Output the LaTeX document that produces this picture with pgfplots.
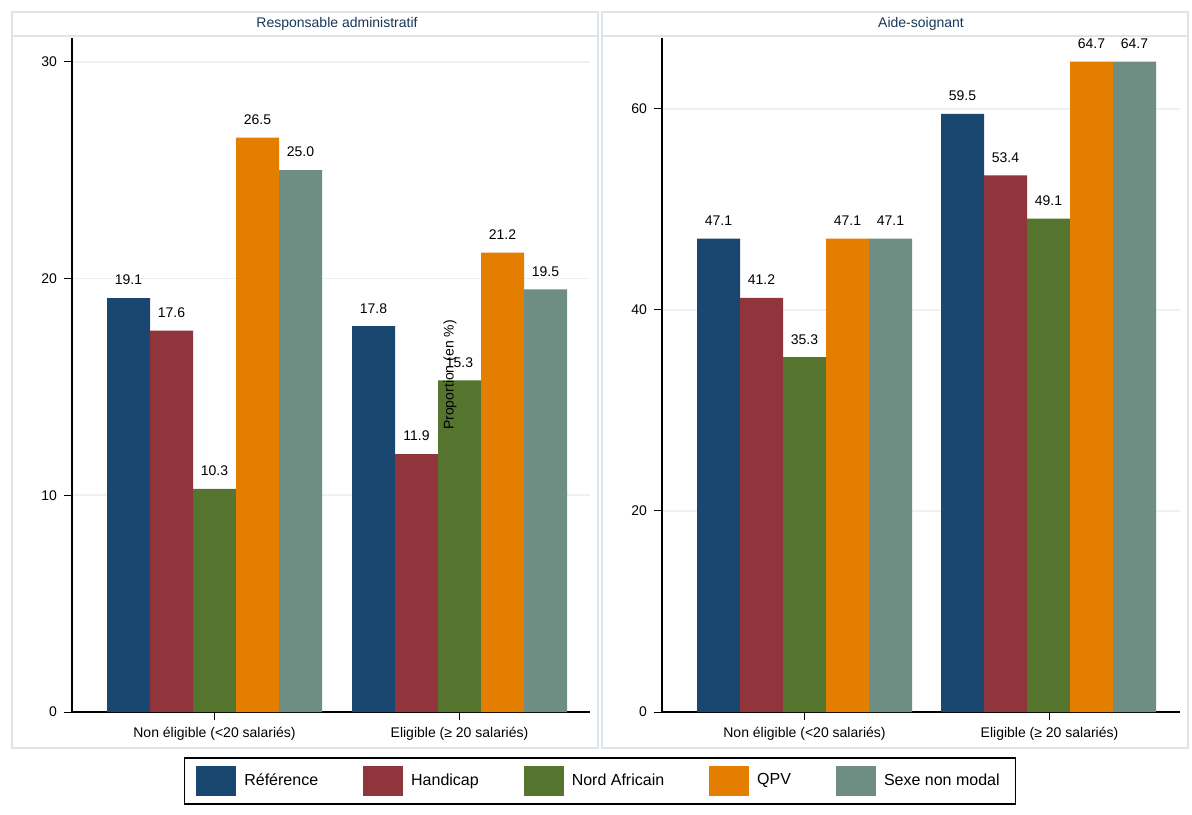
\documentclass[border=0pt]{standalone}
\usepackage{pgfplots}
\pgfplotsset{compat=1.18}
\usepackage{fontspec}
\setmainfont{Liberation Sans}
\definecolor{cA}{HTML}{1A476F}
\definecolor{cB}{HTML}{90353B}
\definecolor{cC}{HTML}{55752F}
\definecolor{cD}{HTML}{E37E00}
\definecolor{cE}{HTML}{6E8E84}
\definecolor{gridc}{HTML}{EAF2F3}
\definecolor{panel}{HTML}{DCE6EA}
\begin{document}
\begin{tikzpicture}[x=0.5pt,y=0.5pt]
\path[fill=white] (0,0) rectangle (1192,814);
\draw[panel,line width=0.6pt] (12,814-12) rectangle (598,814-748);
\draw[panel,line width=0.6pt] (12,814-12) rectangle (598,814-36);
\draw[panel,line width=0.6pt] (602,814-12) rectangle (1188,814-748);
\draw[panel,line width=0.6pt] (602,814-12) rectangle (1188,814-36);
\node[font=\fontsize{7}{8}\selectfont,text=cA!80!black] at (337,814-24) {Responsable administratif};
\node[font=\fontsize{7}{8}\selectfont,text=cA!80!black] at (921,814-24) {Aide-soignant};
\pgfplotsset{
 pan/.style={scale only axis, width=259pt, height=337pt, anchor=south west,
  axis x line*=bottom, axis y line*=left, ymin=0, xmin=0, xmax=518,
  ybar, bar width=21.5pt, bar shift=0pt,
  ymajorgrids, grid style={gridc,line width=0.8pt},
  tick style={black,line width=0.5pt}, major tick length=4pt, tick align=outside,
  xtick={142.5,387.5}, xticklabels={Non éligible (<20 salariés),Eligible (≥ 20 salariés)},
  ticklabel style={font=\fontsize{7}{8}\selectfont},
  /pgf/number format/assume math mode=true,
  nodes near coords, nodes near coords style={font=\fontsize{7}{8}\selectfont,text=black,yshift=3pt},
  /pgf/number format/.cd, fixed, fixed zerofill, precision=1, /pgfplots/.cd,
  yticklabel={\pgfmathprintnumber[fixed,precision=0]{\tick}},
  axis line style={black,line width=0.6pt},
  every axis plot/.append style={draw=none},
  area legend,
 }
}
\begin{axis}[pan, at={(36pt,51pt)}, ymax=31.1, ytick={0,10,20,30},
 legend columns=5,
 legend style={at={(1.0193,-0.102)},anchor=center,draw=black,line width=0.8pt,font=\fontsize{8}{9}\selectfont,
  /tikz/every even column/.append style={column sep=20.5pt},
  /tikz/every odd column/.append style={column sep=2pt}, inner xsep=6pt, inner ysep=4pt},
 legend image code/.code={\fill[#1] (0,-7.5pt) rectangle (20pt,7.5pt);}]
\addplot[fill=cA] coordinates {(56.5,19.1) (301.5,17.8)};
\addplot[fill=cB] coordinates {(99.5,17.6) (344.5,11.9)};
\addplot[fill=cC] coordinates {(142.5,10.3) (387.5,15.3)};
\addplot[fill=cD] coordinates {(185.5,26.5) (430.5,21.2)};
\addplot[fill=cE] coordinates {(228.5,25.0) (473.5,19.5)};
\legend{Référence,Handicap,Nord Africain,QPV,Sexe non modal}
\end{axis}
\begin{axis}[pan, at={(331pt,51pt)}, ymax=67.06, ytick={0,20,40,60}]
\addplot[fill=cA] coordinates {(56.5,47.1) (300.5,59.5)};
\addplot[fill=cB] coordinates {(99.5,41.2) (343.5,53.4)};
\addplot[fill=cC] coordinates {(142.5,35.3) (386.5,49.1)};
\addplot[fill=cD] coordinates {(185.5,47.1) (429.5,64.7)};
\addplot[fill=cE] coordinates {(228.5,47.1) (472.5,64.7)};
\end{axis}
\node[rotate=90,font=\fontsize{7}{8}\selectfont] at (450,814-375) {Proportion (en \%)};
\end{tikzpicture}
\end{document}
